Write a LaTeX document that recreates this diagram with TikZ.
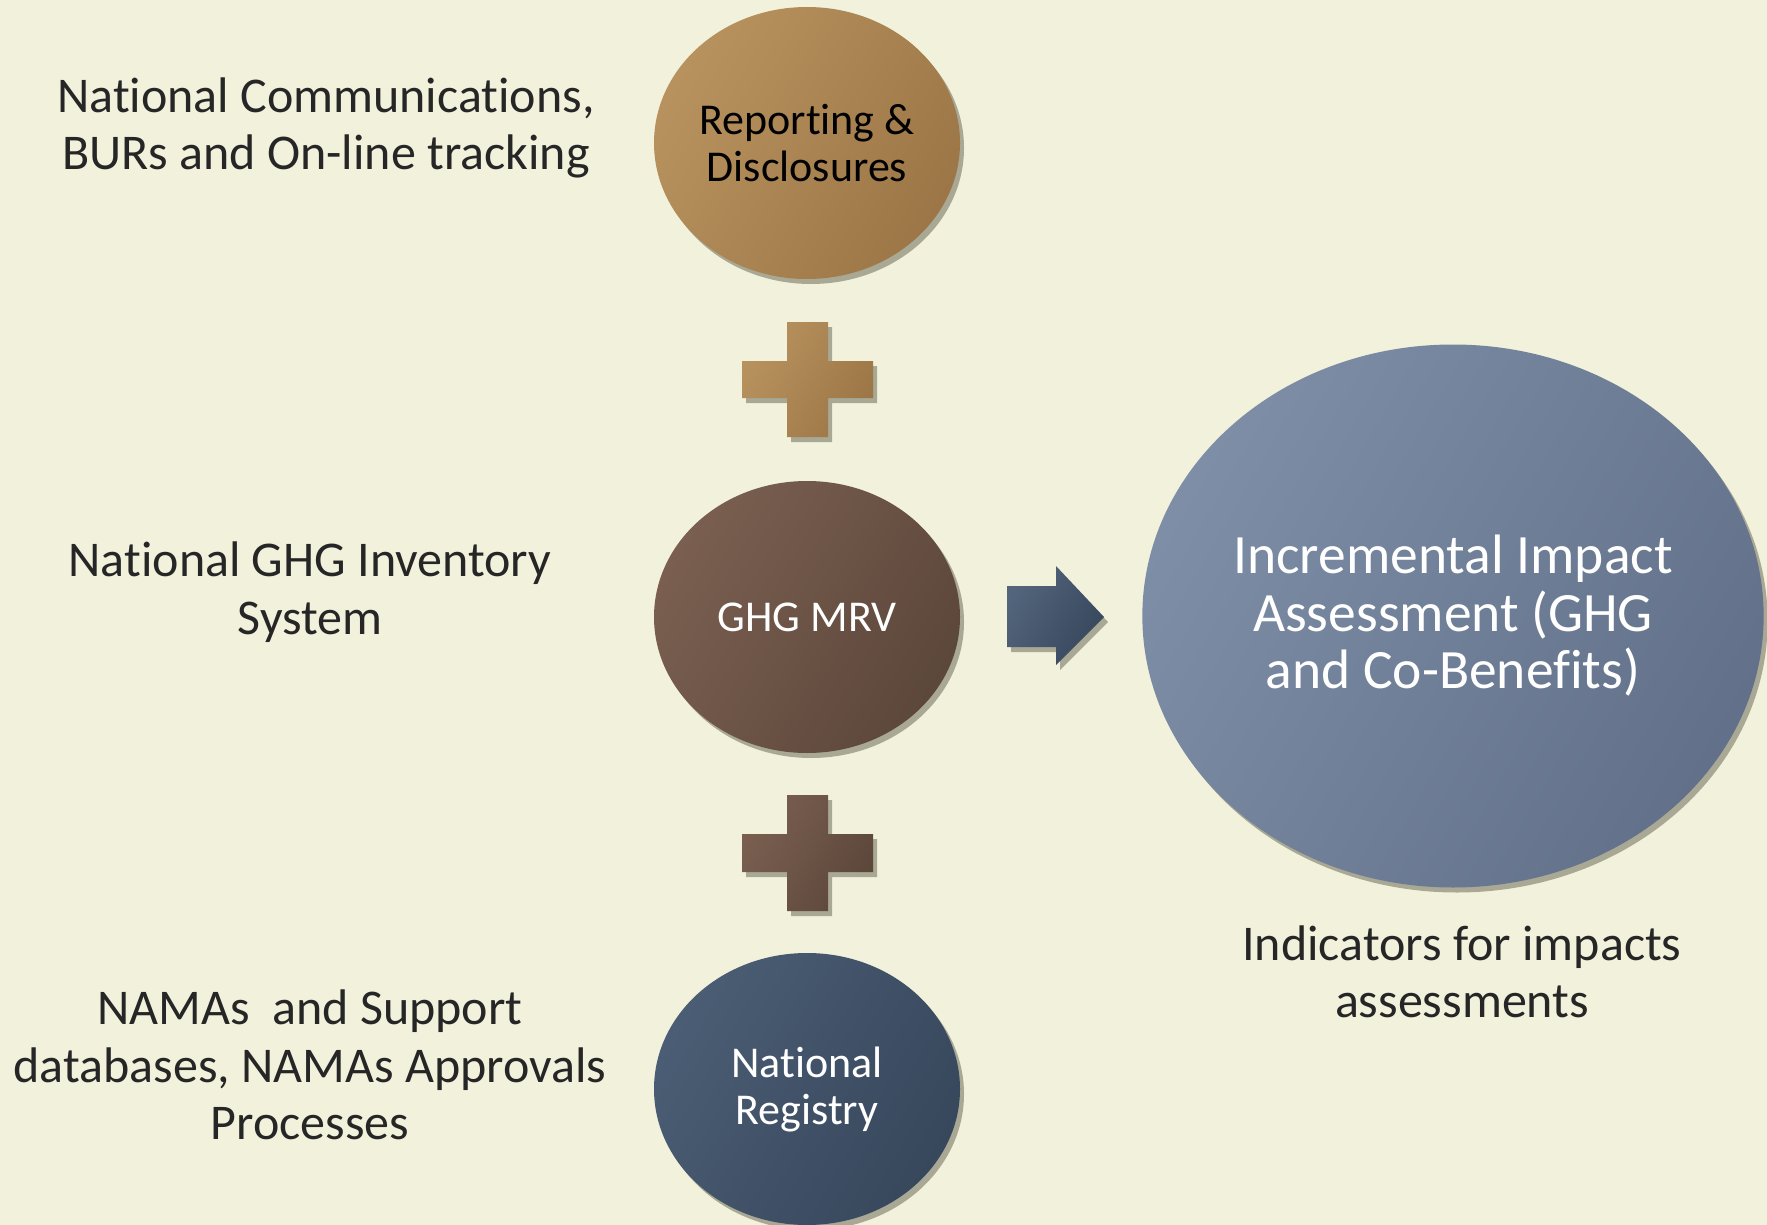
\documentclass[tikz,border=0pt]{standalone}
\usepackage{fontspec}
\setmainfont{Carlito}[Ligatures=NoCommon]
\usetikzlibrary{shapes.geometric,shadows}
\definecolor{bg}{HTML}{F2F1DC}
\definecolor{brownA}{HTML}{B8925E}
\definecolor{brownB}{HTML}{9C7646}
\definecolor{cocoaA}{HTML}{7A5F50}
\definecolor{cocoaB}{HTML}{5C473B}
\definecolor{navyA}{HTML}{4B5D74}
\definecolor{navyB}{HTML}{37475C}
\definecolor{slateA}{HTML}{7E8EA7}
\definecolor{slateB}{HTML}{627189}
\definecolor{txt}{HTML}{262626}
\definecolor{shad}{HTML}{4F5140}
\tikzset{
  sh/.style={drop shadow={shadow xshift=4pt, shadow yshift=-5pt, fill=shad, opacity=0.45}},
  oval/.style={ellipse, inner sep=0pt, align=center, sh},
  side/.style={align=center, text=txt, font=\fontsize{50}{57.5}\selectfont},
  intext/.style={font=\fontsize{44}{47}\selectfont},
}
\begin{document}
\begin{tikzpicture}[x=1pt,y=-1pt]
\fill[bg] (0,0) rectangle (1767,1225);
\useasboundingbox (0,0) rectangle (1767,1225);

% ellipses
\node[oval, minimum width=306pt, minimum height=272pt, left color=brownA, right color=brownB, shading angle=60, text=black, intext] (rep) at (807,143) {Reporting \&\\Disclosures};
\node[oval, minimum width=306pt, minimum height=272pt, left color=cocoaA, right color=cocoaB, shading angle=60, text=white, intext] (mrv) at (807,617) {GHG MRV};
\node[oval, minimum width=306pt, minimum height=272pt, left color=navyA, right color=navyB, shading angle=60, text=white, intext] (reg) at (807,1089) {National\\Registry};
\node[oval, minimum width=610pt, minimum height=543pt, left color=slateA, right color=slateB, shading angle=60, text=white, font=\fontsize{55.5}{57.5}\selectfont] (iia) at (1453,616) {Incremental Impact\\Assessment (GHG\\and Co-Benefits)};

% plus signs
\path[sh, left color=brownA, right color=brownB, shading angle=60]
  (787,322) -- (828,322) -- (828,361) -- (873,361) -- (873,398) -- (828,398) -- (828,437) -- (787,437) -- (787,398) -- (742,398) -- (742,361) -- (787,361) -- cycle;
\path[sh, left color=cocoaA, right color=cocoaB, shading angle=60]
  (787,795) -- (828,795) -- (828,834) -- (873,834) -- (873,872) -- (828,872) -- (828,911) -- (787,911) -- (787,872) -- (742,872) -- (742,834) -- (787,834) -- cycle;

% arrow
\path[sh, left color=navyA!85!slateA, right color=navyB, shading angle=60]
  (1007,586) -- (1056,586) -- (1056,566) -- (1104,617) -- (1056,665) -- (1056,647) -- (1007,647) -- cycle;

% side texts
\node[side] (t1) at (326,128) {National Communications,\\BURs and On-line tracking};
\node[side] (t2) at (310,592) {National GHG Inventory\\System};
\node[side] (t3) at (310,1065) {NAMAs\ \ and Support\\databases, NAMAs Approvals\\Processes};
\node[side] (t4) at (1462,972) {Indicators for impacts\\assessments};
\end{tikzpicture}
\end{document}
